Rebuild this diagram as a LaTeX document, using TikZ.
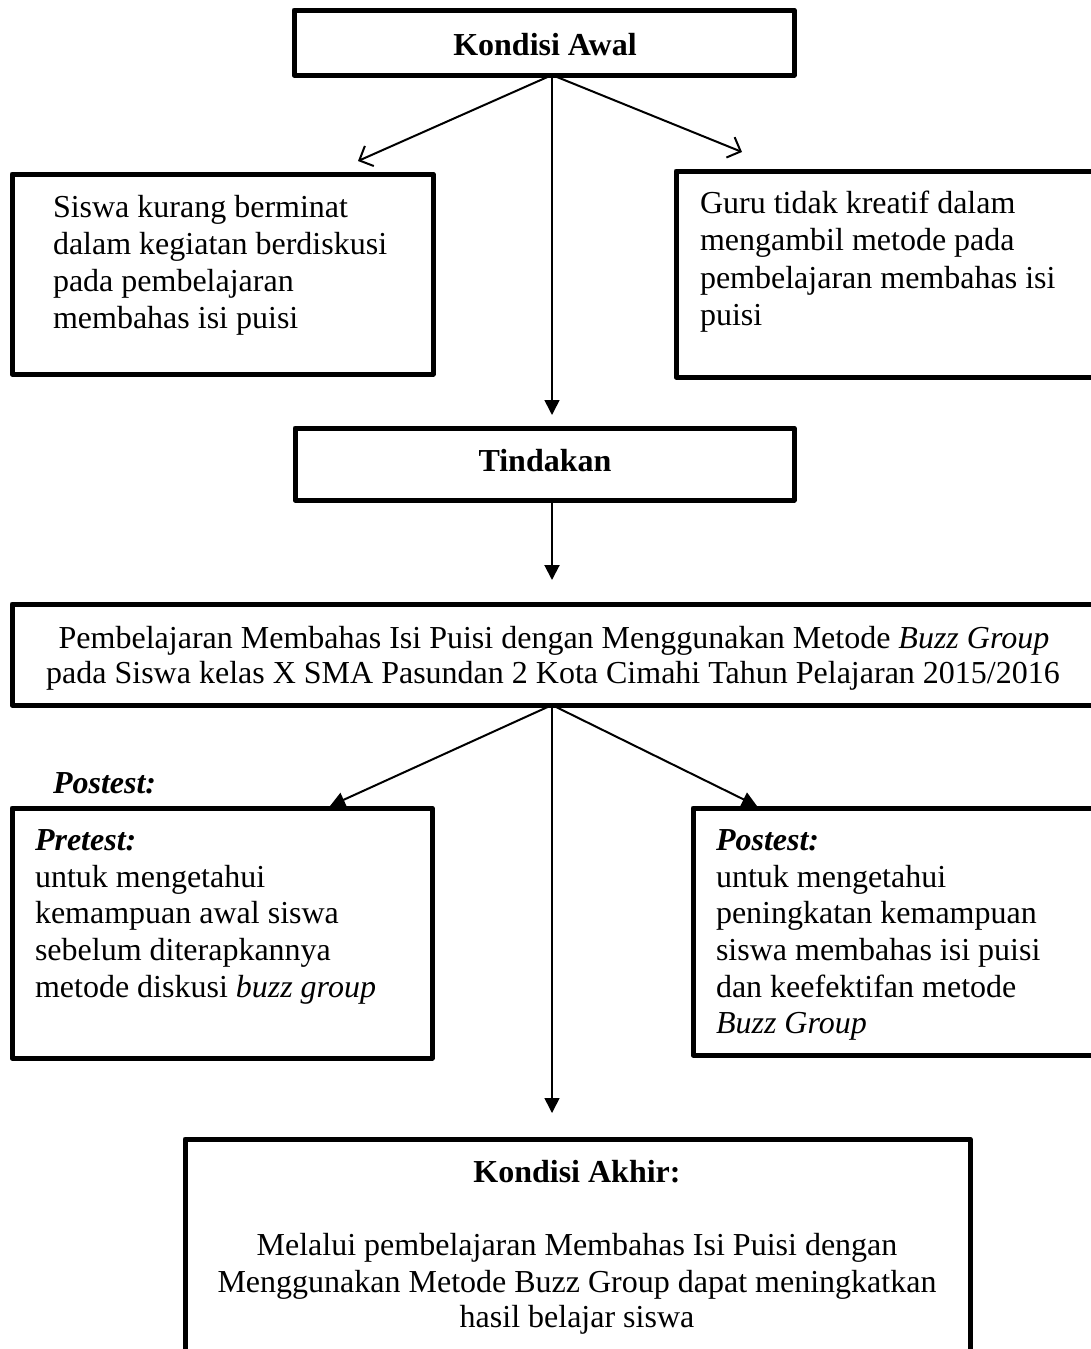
\documentclass[tikz,border=0pt]{standalone}
\usepackage{fontspec}
\setmainfont{Liberation Serif}
\usetikzlibrary{arrows.meta,calc}
\newcommand{\fsz}{\fontsize{32}{37.5}\selectfont}
\tikzset{
  box/.style={draw, line width=5pt, line join=round, inner sep=0pt, outer sep=0pt, anchor=north west, fill=white},
  txt/.style={inner sep=0pt, outer sep=0pt, anchor=base west, font=\fsz},
  ctxt/.style={inner sep=0pt, outer sep=0pt, anchor=base, font=\fsz},
  openarrow/.style={line width=2pt, -{Straight Barb[length=11pt,width=22pt,line width=2pt]}},
  solidarrow/.style={line width=2pt, -{Triangle[length=15pt,width=15pt]}},
  vline/.style={line width=1.6pt, -{Triangle[length=15pt,width=15pt]}}
}
\begin{document}
\begin{tikzpicture}[x=1pt,y=-1pt]
\useasboundingbox (0,0) rectangle (1091,1349);
\clip (0,0) rectangle (1091,1349);
\fill[white] (0,0) rectangle (1091,1349);

% boxes
\node[box, minimum width=500pt, minimum height=65pt] (ka) at (294,10) {};
\node[box, minimum width=421pt, minimum height=200pt] (lt) at (12,174) {};
\node[box, minimum width=424pt, minimum height=206pt] (rt) at (676,171) {};
\node[box, minimum width=499pt, minimum height=72pt] (tin) at (295,428) {};
\node[box, minimum width=1088pt, minimum height=101pt] (pem) at (12,604) {};
\node[box, minimum width=420pt, minimum height=250pt] (pre) at (12,808) {};
\node[box, minimum width=407pt, minimum height=247pt] (post) at (693,808) {};
\node[box, minimum width=785pt, minimum height=262pt] (akh) at (185,1139) {};

% texts
\node[ctxt, font=\fsz\bfseries] (kat) at (545,55) {Kondisi Awal};
\node[txt] (lt1) at (53,217) {Siswa kurang berminat};
\node[txt] (lt2) at (53,254) {dalam kegiatan berdiskusi};
\node[txt] (lt3) at (53,291) {pada pembelajaran};
\node[txt] (lt4) at (53,328) {membahas isi puisi};
\node[txt] (rt1) at (700,213) {Guru tidak kreatif dalam};
\node[txt] (rt2) at (700,250) {mengambil metode pada};
\node[txt] (rt3) at (700,288) {pembelajaran membahas isi};
\node[txt] (rt4) at (700,325) {puisi};
\node[ctxt, font=\fsz\bfseries] (tint) at (545,471) {Tindakan};
\node[ctxt] (pem1) at (554,648) {Pembelajaran Membahas Isi Puisi dengan Menggunakan Metode \textit{Buzz Group}};
\node[ctxt] (pem2) at (553,683) {pada Siswa kelas X SMA Pasundan 2 Kota Cimahi Tahun Pelajaran 2015/2016};
\node[txt, font=\fsz\bfseries\itshape] (plab) at (53,793) {Postest:};
\node[txt, font=\fsz\bfseries\itshape] (pre0) at (35,850) {Pretest:};
\node[txt] (pre1) at (35,887) {untuk mengetahui};
\node[txt] (pre2) at (35,923) {kemampuan awal siswa};
\node[txt] (pre3) at (35,960) {sebelum diterapkannya};
\node[txt] (pre4) at (35,997) {metode diskusi \textit{buzz group}};
\node[txt, font=\fsz\bfseries\itshape] (post0) at (716,850) {Postest:};
\node[txt] (post1) at (716,887) {untuk mengetahui};
\node[txt] (post2) at (716,923) {peningkatan kemampuan};
\node[txt] (post3) at (716,960) {siswa membahas isi puisi};
\node[txt] (post4) at (716,997) {dan keefektifan metode};
\node[txt] (post5) at (716,1033) {\textit{Buzz Group}};
\node[ctxt, font=\fsz\bfseries] (akt) at (577,1182) {Kondisi Akhir:};
\node[ctxt] (ak1) at (577,1255) {Melalui pembelajaran Membahas Isi Puisi dengan};
\node[ctxt] (ak2) at (577,1292) {Menggunakan Metode Buzz Group dapat meningkatkan};
\node[ctxt] (ak3) at (577,1327) {hasil belajar siswa};

% connector anchors
\coordinate (kaout) at (ka.south -| 552,0);
\coordinate (tipL) at (358,161);
\coordinate (tipR) at (742,152);
\coordinate (tipV) at (tin.north -| 552,0);
\coordinate (tinout) at (tin.south -| 552,0);
\coordinate (pemout) at (pem.south -| 552,0);
\coordinate (tipPre) at (330,806);
\coordinate (tipPost) at (757,806);

\draw[openarrow] (kaout) -- (tipL);
\draw[openarrow] (kaout) -- (tipR);
\draw[vline] (kaout) -- ($(tipV)+(0,-13)$);
\draw[solidarrow] (tinout) -- ($(pem.north -| 552,0)+(0,-24)$);
\draw[solidarrow] (pemout) -- (tipPre);
\draw[solidarrow] (pemout) -- (tipPost);
\draw[vline] (pemout) -- ($(akh.north -| 552,0)+(0,-26)$);
\end{tikzpicture}
\end{document}
